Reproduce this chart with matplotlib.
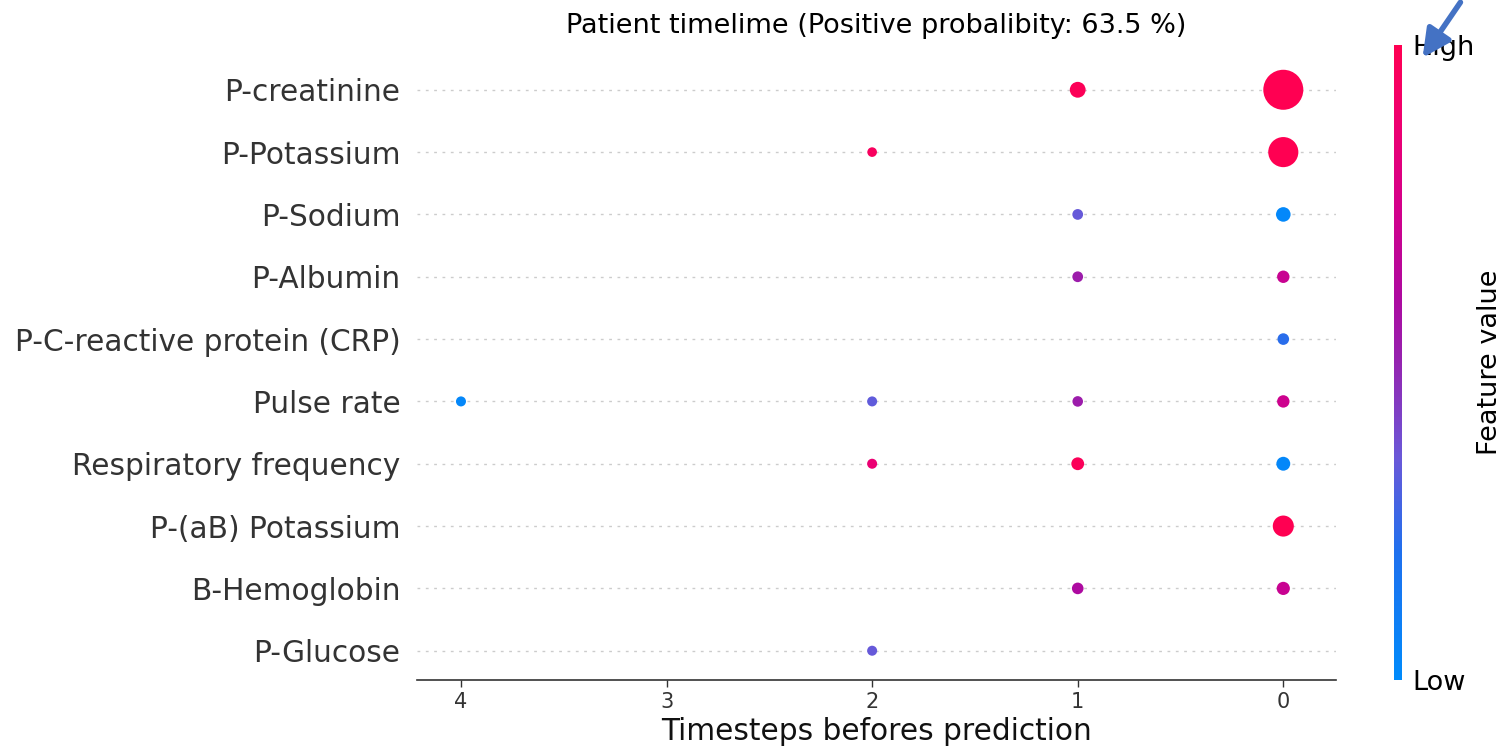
import matplotlib
matplotlib.use("Agg")
import matplotlib.pyplot as plt
from matplotlib.colors import LinearSegmentedColormap
import numpy as np

features = ['P-creatinine', 'P-Potassium', 'P-Sodium', 'P-Albumin',
            'P-C-reactive protein (CRP)', 'Pulse rate', 'Respiratory frequency',
            'P-(aB) Potassium', 'B-Hemoglobin', 'P-Glucose']

# one entry per dot: feature row, timestep, feature value (0=low, 1=high), dot size
point_feature = ['P-creatinine', 'P-creatinine',
                 'P-Potassium', 'P-Potassium',
                 'P-Sodium', 'P-Sodium',
                 'P-Albumin', 'P-Albumin',
                 'P-C-reactive protein (CRP)',
                 'Pulse rate', 'Pulse rate', 'Pulse rate', 'Pulse rate',
                 'Respiratory frequency', 'Respiratory frequency', 'Respiratory frequency',
                 'P-(aB) Potassium',
                 'B-Hemoglobin', 'B-Hemoglobin',
                 'P-Glucose']
point_step = [1, 0,
              2, 0,
              1, 0,
              1, 0,
              0,
              4, 2, 1, 0,
              2, 1, 0,
              0,
              1, 0,
              2]
point_value = [0.98, 1.0,
               0.95, 1.0,
               0.34, 0.02,
               0.53, 0.7,
               0.22,
               0.03, 0.33, 0.53, 0.72,
               0.86, 0.97, 0.03,
               1.0,
               0.6, 0.7,
               0.34]
point_size = [130, 830,
              48, 470,
              60, 110,
              60, 80,
              70,
              52, 52, 58, 80,
              52, 85, 100,
              230,
              70, 90,
              52]

cmap = LinearSegmentedColormap.from_list(
    'shap_red_blue',
    [(0.0, '#008bfb'), (0.2, '#1f70ee'), (0.35, '#6a58d8'), (0.5, '#9524b0'),
     (0.6, '#ad0aa0'), (0.75, '#d4008a'), (0.88, '#ee0070'), (1.0, '#ff0052')])

fig = plt.figure(figsize=(15.01, 7.56), dpi=100)
ax = fig.add_axes([0.2778, 0.1005, 0.6125, 0.8195])

ypos = {f: len(features) - 1 - i for i, f in enumerate(features)}

for f in features:
    ax.axhline(ypos[f], color='#cccccc', lw=1, linestyle=(0, (2, 4)), zorder=1)

sc = ax.scatter(point_step, [ypos[f] for f in point_feature], s=point_size,
                c=point_value, cmap=cmap, vmin=0, vmax=1, zorder=3, linewidths=0)

ax.set_xlim(4.214, -0.258)
ax.set_ylim(-0.47, len(features) - 1 + 0.47)
ax.set_yticks([ypos[f] for f in features])
ax.set_yticklabels(features, fontsize=21.3, color='#333333')
ax.set_xticks([4, 3, 2, 1, 0])
ax.tick_params(axis='y', length=0, pad=12)
ax.tick_params(axis='x', labelsize=15, colors='#333333', length=5, width=1)
for side in ['top', 'right', 'left']:
    ax.spines[side].set_visible(False)
ax.spines['bottom'].set_color('#333333')
ax.spines['bottom'].set_linewidth(1.2)
ax.set_xlabel('Timesteps befores prediction', fontsize=21.3, color='#111111', labelpad=4)
ax.set_title('Patient timelime (Positive probalibity: 63.5 %)', fontsize=19.5, pad=20)

cax = fig.add_axes([0.9287, 0.1005, 0.0055, 0.840])
cb = fig.colorbar(sc, cax=cax)
cb.outline.set_visible(False)
cb.set_ticks([0, 1])
cb.set_ticklabels(['Low', 'High'])
cb.ax.tick_params(length=0, labelsize=19.5, pad=7)
cb.set_label('Feature value', fontsize=19.5, labelpad=2)

# hand-drawn pointer on the original slide
fig.patches.append(matplotlib.patches.FancyArrowPatch(
    (1462 / 1501, 1.0), (1421 / 1501, 1 - 60 / 756), transform=fig.transFigure,
    arrowstyle='-|>', mutation_scale=42, lw=4, color='#4472C4'))

fig.savefig('out.png', dpi=100, facecolor='white')
